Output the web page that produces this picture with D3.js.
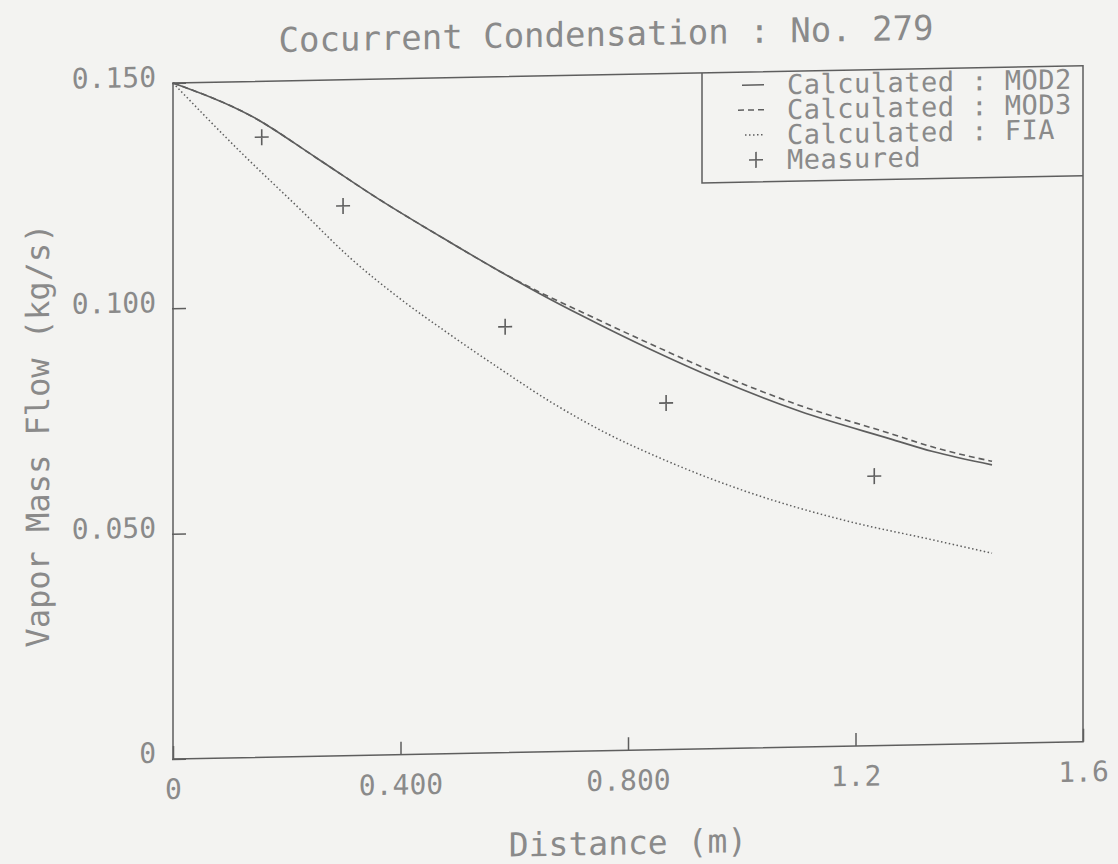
<!DOCTYPE html>
<html>
<head>
<meta charset="utf-8">
<script src="https://cdn.jsdelivr.net/npm/d3@7/dist/d3.min.js"></script>
<style>
  html, body { margin: 0; padding: 0; background: #f3f3f1; }
  svg { display: block; }
</style>
</head>
<body>
<div id="chart"></div>
<script>
// Chart data
var mod2X = [0, 0.141, 0.253, 0.359, 0.487, 0.575, 0.645, 0.721, 0.839, 0.956, 1.102, 1.261, 1.336, 1.44];
var mod2Y = [0.150, 0.1421, 0.1327, 0.1236, 0.1135, 0.1068, 0.1017, 0.0965, 0.0889, 0.0820, 0.0745, 0.0680, 0.0650, 0.0618];

var mod3X = [0, 0.141, 0.253, 0.359, 0.487, 0.575, 0.645, 0.721, 0.839, 0.956, 1.102, 1.261, 1.336, 1.44];
var mod3Y = [0.150, 0.1421, 0.1327, 0.1236, 0.1135, 0.1068, 0.1020, 0.0973, 0.0901, 0.0833, 0.0758, 0.0692, 0.0660, 0.0626];

var fiaX = [0, 0.118, 0.223, 0.311, 0.399, 0.487, 0.575, 0.662, 0.751, 0.869, 1.002, 1.178, 1.336, 1.44];
var fiaY = [0.150, 0.1345, 0.1215, 0.1105, 0.1012, 0.0930, 0.0852, 0.0778, 0.0712, 0.0640, 0.0572, 0.0502, 0.0454, 0.0422];

var measuredX = [0.156, 0.299, 0.584, 0.867, 1.233];
var measuredY = [0.1376, 0.1220, 0.0945, 0.0769, 0.0598];

var xTickValues = [0, 0.4, 0.8, 1.2, 1.6];
var xTickLabels = ["0", "0.400", "0.800", "1.2", "1.6"];
var yTickValues = [0, 0.05, 0.10, 0.15];
var yTickLabels = ["0", "0.050", "0.100", "0.150"];

var legendLabels = ["Calculated : MOD2", "Calculated : MOD3", "Calculated : FIA", "Measured"];

// SVG area
var svgWidth = 1118;
var svgHeight = 864;

var plotLeft = 173;
var plotRight = 1083;
var plotTop = 83;
var plotBottom = 759;

var ink = "#5e5e5e";
var textInk = "#8a8a8a";
var monoFont = "'DejaVu Sans Mono', monospace";

var svg = d3.select("#chart")
  .append("svg")
  .attr("width", svgWidth)
  .attr("height", svgHeight);

svg.append("rect")
  .attr("width", svgWidth)
  .attr("height", svgHeight)
  .attr("fill", "#f3f3f1");

// the scan is slightly skewed, so the whole drawing leans a little
var chartGroup = svg.append("g")
  .attr("transform", "translate(172,0) skewY(-1.09) translate(-172,0)");

var xScale = d3.scaleLinear()
  .domain([0, 1.6])
  .range([plotLeft, plotRight]);

var yScale = d3.scaleLinear()
  .domain([0, 0.15])
  .range([plotBottom, plotTop]);

// Frame
chartGroup.append("rect")
  .attr("x", plotLeft)
  .attr("y", plotTop)
  .attr("width", plotRight - plotLeft)
  .attr("height", plotBottom - plotTop)
  .attr("fill", "none")
  .attr("stroke", ink)
  .attr("stroke-width", 1.5);

// Axes with inward ticks
var bottomAxis = d3.axisBottom(xScale)
  .tickValues(xTickValues)
  .tickFormat(function(d, i) { return xTickLabels[i]; })
  .tickSizeInner(-13)
  .tickSizeOuter(0)
  .tickPadding(20);

var leftAxis = d3.axisLeft(yScale)
  .tickValues(yTickValues)
  .tickFormat(function(d, i) { return yTickLabels[i]; })
  .tickSizeInner(-14)
  .tickSizeOuter(0)
  .tickPadding(16);

var xAxis = chartGroup.append("g")
  .attr("transform", `translate(0, ${plotBottom})`)
  .call(bottomAxis);

var yAxis = chartGroup.append("g")
  .attr("transform", `translate(${plotLeft - 1}, 0)`)
  .call(leftAxis);

[xAxis, yAxis].forEach(function(axis) {
  axis.select(".domain").remove();
  axis.attr("font-family", monoFont).attr("font-size", 28);
  axis.selectAll("line").attr("stroke", ink).attr("stroke-width", 1.5);
  axis.selectAll("text").attr("fill", textInk);
});

yAxis.selectAll("text").attr("y", -6);

// Curves
var line = d3.line()
  .x(d => xScale(d[0]))
  .y(d => yScale(d[1]))
  .curve(d3.curveMonotoneX);

var series = [
  { xs: mod2X, ys: mod2Y, dash: null, width: 1.6 },
  { xs: mod3X, ys: mod3Y, dash: "6,4", width: 1.6 },
  { xs: fiaX, ys: fiaY, dash: "1.5,2.5", width: 1.5 }
];

series.forEach(function(s) {
  var pts = s.xs.map(function(x, i) { return [x, s.ys[i]]; });
  chartGroup.append("path")
    .datum(pts)
    .attr("d", line)
    .attr("fill", "none")
    .attr("stroke", ink)
    .attr("stroke-width", s.width)
    .attr("stroke-dasharray", s.dash);
});

// Measured points as plus marks
var plusPath = "M-7,0H7M0,-8V8";
chartGroup.selectAll(".measured")
  .data(measuredX.map(function(x, i) { return [x, measuredY[i]]; }))
  .enter()
  .append("path")
  .attr("class", "measured")
  .attr("d", plusPath)
  .attr("transform", d => `translate(${xScale(d[0])}, ${yScale(d[1])})`)
  .attr("fill", "none")
  .attr("stroke", ink)
  .attr("stroke-width", 1.6);

// Legend box (shares top and right border with the frame)
var legendLeft = 702;
var legendBottom = 193;
chartGroup.append("path")
  .attr("d", `M${legendLeft},${plotTop}V${legendBottom}H${plotRight}`)
  .attr("fill", "none")
  .attr("stroke", ink)
  .attr("stroke-width", 1.5);

var legendRows = chartGroup.selectAll(".legend-row")
  .data(legendLabels)
  .enter()
  .append("g")
  .attr("class", "legend-row")
  .attr("transform", (d, i) => `translate(0, ${96 + i * 25})`);

legendRows.append("text")
  .attr("x", 787)
  .attr("dy", "0.36em")
  .attr("font-family", monoFont)
  .attr("font-size", 27)
  .attr("letter-spacing", 0.5)
  .attr("fill", textInk)
  .attr("xml:space", "preserve")
  .text(d => d);

// legend samples
legendRows.filter((d, i) => i < 3)
  .append("line")
  .attr("x1", (d, i) => [742, 738, 745][i])
  .attr("x2", 764)
  .attr("y1", 0)
  .attr("y2", 0)
  .attr("stroke", ink)
  .attr("stroke-width", 1.5)
  .attr("stroke-dasharray", (d, i) => [null, "6,4", "1.5,2.5"][i]);

legendRows.filter((d, i) => i === 3)
  .append("path")
  .attr("d", plusPath)
  .attr("transform", "translate(756, 0)")
  .attr("stroke", ink)
  .attr("stroke-width", 1.6);

// Titles
chartGroup.append("text")
  .attr("x", 606)
  .attr("y", 54)
  .attr("text-anchor", "middle")
  .attr("font-family", monoFont)
  .attr("font-size", 34)
  .attr("fill", textInk)
  .text("Cocurrent Condensation : No. 279");

chartGroup.append("text")
  .attr("x", 628)
  .attr("y", 863)
  .attr("text-anchor", "middle")
  .attr("font-family", monoFont)
  .attr("font-size", 33)
  .attr("fill", textInk)
  .text("Distance (m)");

chartGroup.append("text")
  .attr("transform", "translate(49, 433) rotate(-90)")
  .attr("text-anchor", "middle")
  .attr("font-family", monoFont)
  .attr("font-size", 32)
  .attr("fill", textInk)
  .text("Vapor Mass Flow (kg/s)");
</script>
</body>
</html>
